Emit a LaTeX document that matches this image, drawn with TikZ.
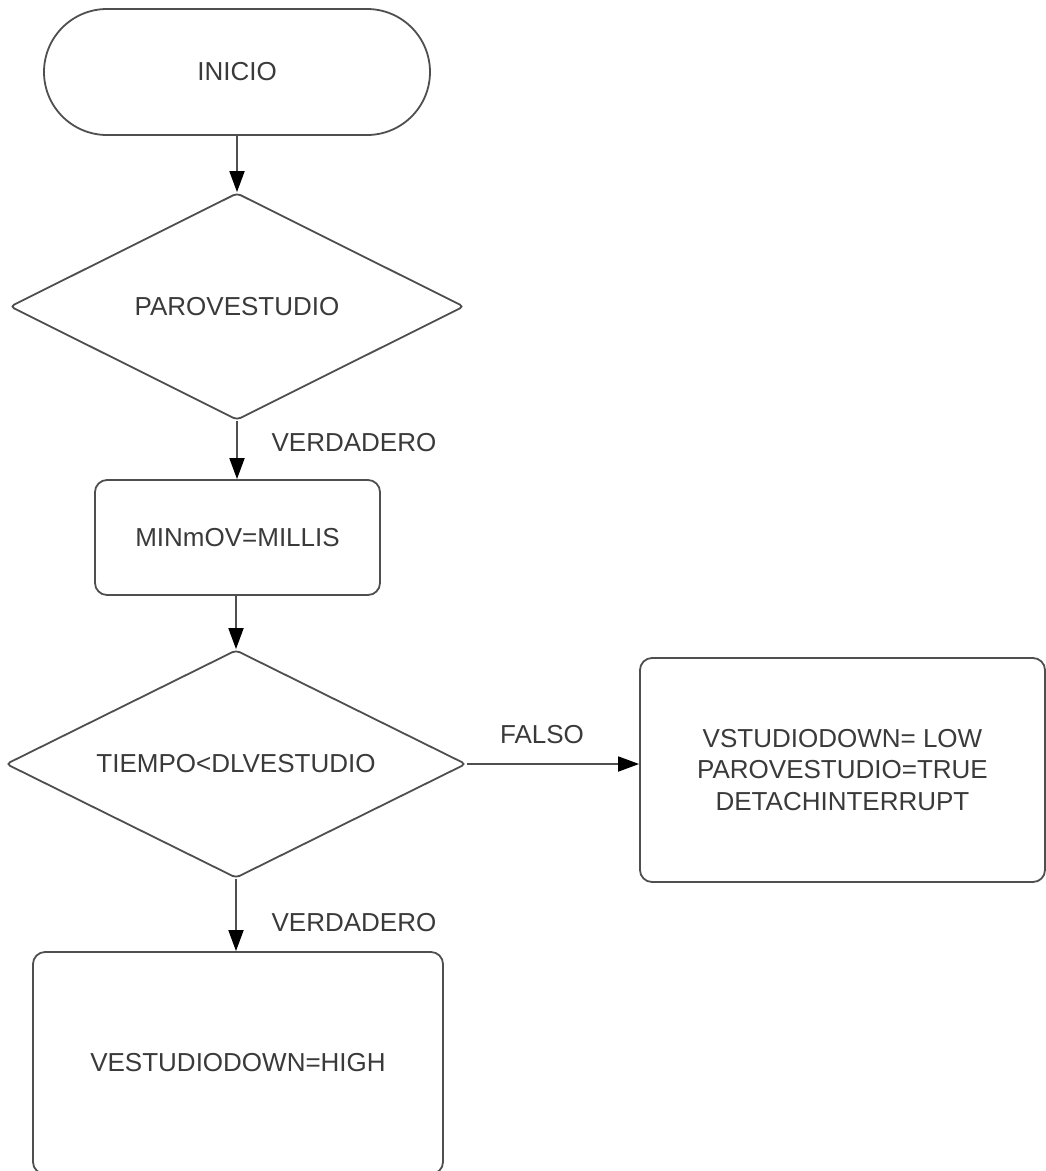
\documentclass[tikz,border=0pt]{standalone}
\usepackage{fontspec}
\setmainfont{Liberation Sans}
\usetikzlibrary{shapes.geometric,arrows.meta}
\definecolor{ink}{HTML}{3A3A3A}
\definecolor{edge}{HTML}{4F4F4F}
\begin{document}
\begin{tikzpicture}[x=1pt,y=-1pt,
  every node/.style={font=\fontsize{26}{31.5}\selectfont, text=ink},
  shapebox/.style={draw=edge, line width=1.8pt, fill=white, inner sep=0pt},
  terminal/.style={shapebox, rectangle, rounded corners=63pt,
    minimum width=386pt, minimum height=126pt},
  decision/.style={shapebox, diamond, shape aspect=2, rounded corners=4pt},
  process/.style={shapebox, rectangle, rounded corners=12pt, align=center},
  flow/.style={draw=edge, line width=1.8pt,
    -{Triangle[length=21pt,width=15pt,color=black]}},
  tag/.style={inner sep=0pt}
]
\useasboundingbox (0,0) rectangle (1046,1171);
\clip (0,0) rectangle (1046,1171);

% shapes
\node[terminal] (inicio) at (237,72) {INICIO};
\node[decision, minimum width=454pt, minimum height=227pt] (paro) at (237,306.5) {PAROVESTUDIO};
\node[process, minimum width=285pt, minimum height=115pt] (minmov) at (237.5,537.5) {MINmOV=MILLIS};
\node[decision, minimum width=460pt, minimum height=228pt] (tiempo) at (236,764) {TIEMPO<DLVESTUDIO};
\node[process, minimum width=405pt, minimum height=224pt] (low) at (842.5,770)
  {VSTUDIODOWN= LOW\\PAROVESTUDIO=TRUE\\DETACHINTERRUPT};
\node[process, minimum width=410pt, minimum height=222pt] (high) at (238,1063) {VESTUDIODOWN=HIGH};

% connectors
\draw[flow] (inicio.south -| paro.north) -- (paro.north);
\draw[flow] (paro.south) -- (paro.south |- minmov.north);
\draw[flow] (minmov.south -| tiempo.north) -- (tiempo.north);
\draw[flow] (tiempo.east) -- (tiempo.east -| low.west);
\draw[flow] (tiempo.south) -- (tiempo.south |- high.north);

% branch labels
\node[tag] (v1) at (354,443) {VERDADERO};
\node[tag] (falso) at (542,735) {FALSO};
\node[tag] (v2) at (354,923) {VERDADERO};
\end{tikzpicture}
\end{document}
